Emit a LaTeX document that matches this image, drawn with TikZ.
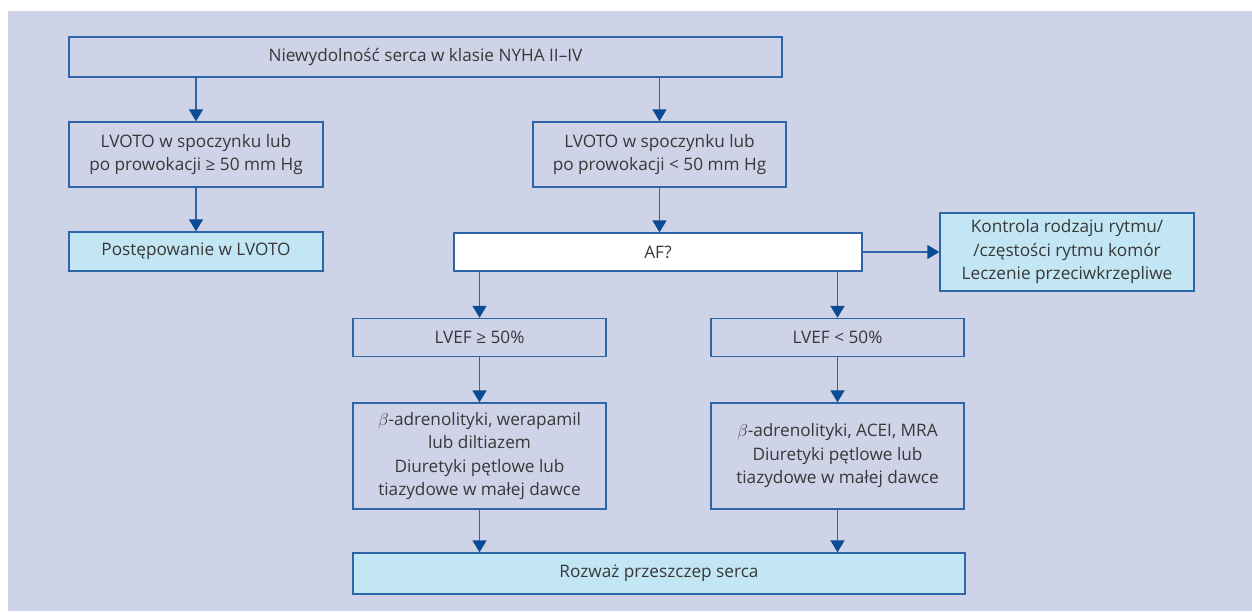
\documentclass[tikz,border=0pt]{standalone}
\usepackage{fontspec}
\setmainfont{Open Sans}
\usetikzlibrary{arrows.meta}
\definecolor{panel}{HTML}{CED3E7}
\definecolor{frame}{HTML}{2E64A8}
\definecolor{arrowblue}{HTML}{0B4A94}
\definecolor{paleblue}{HTML}{C3E6F4}
\definecolor{ink}{HTML}{383838}
\tikzset{
  box/.style={draw=frame, line width=1.4pt, text=ink, align=center,
    font=\fontsize{17.2}{23.5}\selectfont, inner sep=0pt},
  plain/.style={box, fill=panel},
  hilite/.style={box, fill=paleblue},
  blank/.style={box, fill=white},
  arr/.style={draw=frame, line width=1.8pt,
    -{Triangle[width=14pt,length=12pt,fill=arrowblue,color=arrowblue]}},
}
\begin{document}
\begin{tikzpicture}[x=1pt,y=-1pt]
\useasboundingbox (0,0) rectangle (1252,611);
\fill[panel] (8,11) rectangle (1252,611);

\node[plain, minimum width=713pt, minimum height=40pt] (top) at (425.5,57) {Niewydolność serca w klasie NYHA II–IV};
\node[plain, minimum width=254pt, minimum height=65pt] (hi) at (196,154.5) {LVOTO w spoczynku lub\\po prowokacji ≥ 50 mm Hg};
\node[plain, minimum width=253pt, minimum height=65pt] (lo) at (659.5,154.5) {LVOTO w spoczynku lub\\po prowokacji < 50 mm Hg};
\node[hilite, minimum width=254pt, minimum height=39pt] (manage) at (196,251.5) {Postępowanie w LVOTO};
\node[blank, minimum width=408pt, minimum height=38pt] (af) at (658,252) {AF?};
\node[hilite, minimum width=254pt, minimum height=78pt] (rate) at (1067,252) {Kontrola rodzaju rytmu/\\/częstości rytmu komór\\Leczenie przeciwkrzepliwe};
\node[plain, minimum width=253pt, minimum height=38pt] (efhi) at (479.5,337.5) {LVEF ≥ 50\%};
\node[plain, minimum width=253pt, minimum height=38pt] (eflo) at (837.5,337.5) {LVEF < 50\%};
\node[plain, minimum width=253pt, minimum height=106pt] (rxhi) at (479.5,456) {$\beta$-adrenolityki, werapamil\\lub diltiazem\\Diuretyki pętlowe lub\\tiazydowe w małej dawce};
\node[plain, minimum width=253pt, minimum height=106pt] (rxlo) at (837.5,456) {$\beta$-adrenolityki, ACEI, MRA\\Diuretyki pętlowe lub\\tiazydowe w małej dawce};
\node[hilite, minimum width=612pt, minimum height=41pt] (tx) at (659,573.5) {Rozważ przeszczep serca};

\draw[arr] (top.south -| hi.north) -- (hi.north);
\draw[arr] (top.south -| lo.north) -- (lo.north);
\draw[arr] (hi.south) -- (manage.north);
\draw[arr] (lo.south) -- (lo.south |- af.north);
\draw[arr] (af.east) -- (rate.west);
\draw[arr] (af.south -| efhi.north) -- (efhi.north);
\draw[arr] (af.south -| eflo.north) -- (eflo.north);
\draw[arr] (efhi.south) -- (rxhi.north);
\draw[arr] (eflo.south) -- (rxlo.north);
\draw[arr] (rxhi.south) -- (rxhi.south |- tx.north);
\draw[arr] (rxlo.south) -- (rxlo.south |- tx.north);
\end{tikzpicture}
\end{document}
